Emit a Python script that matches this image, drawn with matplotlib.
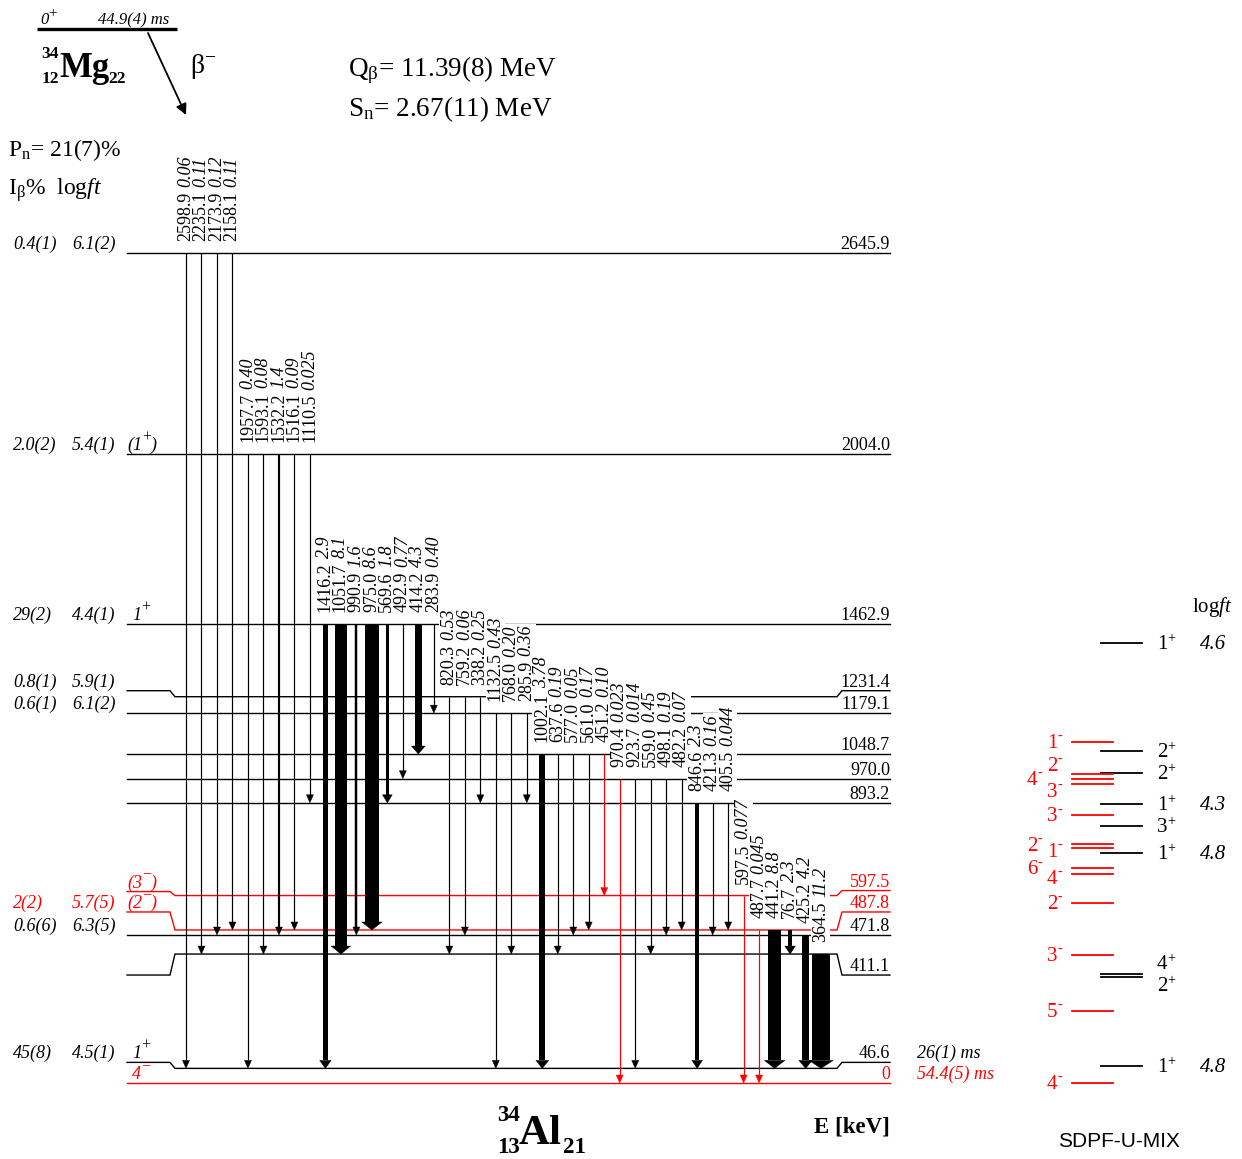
import matplotlib
matplotlib.use('Agg')
import matplotlib.pyplot as plt
from matplotlib.patches import Polygon

plt.rcParams['font.family'] = ['Liberation Serif', 'DejaVu Serif']
plt.rcParams['mathtext.fontset'] = 'custom'
plt.rcParams['mathtext.rm'] = 'Liberation Serif'
plt.rcParams['mathtext.it'] = 'Liberation Serif:italic'
plt.rcParams['mathtext.bf'] = 'Liberation Serif:bold'

# ---------------- data ----------------
level_E = [2645.9, 2004.0, 1462.9, 1231.4, 1179.1, 1048.7, 970.0, 893.2,
           597.5, 487.8, 471.8, 411.1, 46.6, 0.0]
level_text = ["2645.9", "2004.0", "1462.9", "1231.4", "1179.1", "1048.7", "970.0",
              "893.2", "597.5", "487.8", "471.8", "411.1", "46.6", "0"]
level_red = [False, False, False, False, False, False, False, False,
             True, True, False, False, False, True]
# spin-parity: (J, parity, tentative)
level_J = ["", "1", "1", "", "", "", "", "", "3", "2", "", "", "1", "4"]
level_parity = ["", "+", "+", "", "", "", "", "", "\u2212", "\u2212", "", "", "+", "\u2212"]
level_tentative = [False, True, False, False, False, False, False, False,
                   True, True, False, False, False, False]
level_Ibeta = ["0.4(1)", "2.0(2)", "29(2)", "0.8(1)", "0.6(1)", "", "", "",
               "", "2(2)", "0.6(6)", "", "45(8)", ""]
level_logft = ["6.1(2)", "5.4(1)", "4.4(1)", "5.9(1)", "6.1(2)", "", "", "",
               "", "5.7(5)", "6.3(5)", "", "4.5(1)", ""]
level_halflife = ["", "", "", "", "", "", "", "", "", "", "", "", "26(1) ms", "54.4(5) ms"]

g_energy = ["2598.9", "2235.1", "2173.9", "2158.1",
            "1957.7", "1593.1", "1532.2", "1516.1", "1110.5",
            "1416.2", "1051.7", "990.9", "975.0", "569.6", "492.9", "414.2", "283.9",
            "820.3", "759.2", "338.2",
            "1132.5", "768.0", "285.9",
            "1002.1", "637.6", "577.0", "561.0", "451.2",
            "970.4", "923.7", "559.0", "498.1", "482.2",
            "846.6", "421.3", "405.5",
            "597.5",
            "487.7", "441.2", "76.7",
            "425.2",
            "364.5"]
g_int_text = ["0.06", "0.11", "0.12", "0.11",
              "0.40", "0.08", "1.4", "0.09", "0.025",
              "2.9", "8.1", "1.6", "8.6", "1.8", "0.77", "4.3", "0.40",
              "0.53", "0.06", "0.25",
              "0.43", "0.20", "0.36",
              "3.78", "0.19", "0.05", "0.17", "0.10",
              "0.023", "0.014", "0.45", "0.19", "0.07",
              "2.3", "0.16", "0.044",
              "0.077",
              "0.045", "8.8", "2.3",
              "4.2",
              "11.2"]
g_int = [float(s) for s in g_int_text]
g_from = [2645.9] * 4 + [2004.0] * 5 + [1462.9] * 8 + [1231.4] * 3 + [1179.1] * 3 + \
         [1048.7] * 5 + [970.0] * 5 + [893.2] * 3 + [597.5] + [487.8] * 3 + [471.8] + [411.1]
g_to = [46.6, 411.1, 471.8, 487.8,
        46.6, 411.1, 471.8, 487.8, 893.2,
        46.6, 411.1, 471.8, 487.8, 893.2, 970.0, 1048.7, 1179.1,
        411.1, 471.8, 893.2,
        46.6, 411.1, 893.2,
        46.6, 411.1, 471.8, 487.8, 597.5,
        0.0, 46.6, 411.1, 471.8, 487.8,
        46.6, 471.8, 487.8,
        0.0,
        0.0, 46.6, 411.1,
        46.6,
        46.6]
g_red = ["451.2", "970.4", "597.5", "487.7"]

# SDPF-U-MIX calculation
th_pos_E = [1403, 1058, 988, 889, 819, 733, 347, 338, 54]
th_pos_spin = ["1", "2", "2", "1", "3", "1", "4", "2", "1"]
th_pos_logft = ["4.6", "", "", "4.3", "", "4.8", "", "", "4.8"]
th_neg_E = [1087, 985, 969, 953, 854, 762, 749, 685, 666, 574, 408, 230, 0]
th_neg_spin = ["1", "2", "4", "3", "3", "2", "1", "6", "4", "2", "3", "5", "4"]

# ---------------- layout ----------------
E_per_px = 2645.9 / 830.0
def py(ypx):            # pixel row -> energy coordinate
    return (1083.0 - ypx) * E_per_px
def dpx(n):             # pixel distance -> energy distance
    return n * E_per_px

level_left_dy = [0, 0, 0, -6, 0, 0, 0, 0, -4, -18, 0, 21, -6, 0]
level_right_dy = [0, 0, 0, -6, 0, 0, 0, 0, -5, -18, 0, 21, -6, 0]
th_pos_label_dy = [0, 0, 0, 0, 0, 0, -11, 8, 0]
th_neg_label_dy = [0, -9, 0, 7, 0, 1, 3, 0, 4, 0, 0, 0, 0]
th_neg_label_col = [0, 0, 1, 0, 0, 1, 0, 1, 0, 0, 0, 0, 0]

RED = '#ff0000'
FS = 13

fig = plt.figure(figsize=(12.42, 11.59), dpi=100)
ax = fig.add_axes([0, 0, 1, 1])
ax.set_xlim(0, 1242)
ax.set_ylim(py(1159), py(0))
ax.axis('off')


def chain(x, y, pieces, color='black', zorder=4):
    """Draw text pieces one after another: (text, fontsize, style, rise_pt)."""
    first = None
    prev = None
    for txt, fs, style, rise in pieces:
        if first is None:
            first = ax.text(x, y, txt, fontsize=fs, style=style, color=color,
                            ha='left', va='baseline', zorder=zorder)
            prev = first
        else:
            prev = ax.annotate(txt, xy=(1, 0), xycoords=(prev, first),
                               xytext=(0, rise), textcoords='offset points',
                               fontsize=fs, style=style, color=color,
                               ha='left', va='bottom', zorder=zorder)
    return first


# ---------------- levels ----------------
for i, E in enumerate(level_E):
    col = RED if level_red[i] else 'black'
    yl = E - dpx(level_left_dy[i])
    yr = E - dpx(level_right_dy[i])
    ax.plot([127, 170, 175, 837, 842, 890], [yl, yl, E, E, yr, yr], color=col,
            lw=1.0, zorder=1, solid_joinstyle='miter')
    ax.text(890, yr + dpx(4), level_text[i], ha='right', va='baseline', fontsize=FS,
            color=col)
    if level_J[i]:
        if level_tentative[i]:
            pieces = [("(" + level_J[i], FS, 'italic', 0), (level_parity[i], 11.5, 'normal', 6.0),
                      (")", FS, 'italic', 0)]
            xs = 127
        else:
            pieces = [(level_J[i], FS, 'italic', 0), (level_parity[i], 11.5, 'normal', 6.0)]
            xs = 132
        chain(xs, yl + dpx(4), pieces, color=col)
    if level_Ibeta[i]:
        ax.text(13, yl + dpx(4), level_Ibeta[i], ha='left', va='baseline', fontsize=FS,
                style='italic', color=col)
    if level_logft[i]:
        ax.text(72, yl + dpx(4), level_logft[i], ha='left', va='baseline', fontsize=FS,
                style='italic', color=col)
    if level_halflife[i]:
        ax.text(917, yr + dpx(4), level_halflife[i], ha='left', va='baseline', fontsize=FS,
                style='italic', color=col)

# ---------------- transitions ----------------
x0, dx = 186.0, 15.49
hl_px = 8.0
wbox = dict(boxstyle='square,pad=0.05', fc='white', ec='none')
for k, (eg, it, itt, Ef, Et) in enumerate(zip(g_energy, g_int, g_int_text, g_from, g_to)):
    x = x0 + dx * k
    col = RED if eg in g_red else 'black'
    w = max(1.2, 1.55 * it)
    head_top = Et + dpx(hl_px)
    if w < 2.6:
        ax.plot([x, x], [Ef, head_top], color=col, lw=w * 0.72, zorder=2,
                solid_capstyle='butt')
        hw = 7.0
    else:
        ax.add_patch(Polygon([(x - w / 2, Ef), (x + w / 2, Ef), (x + w / 2, head_top),
                              (x - w / 2, head_top)], closed=True, fc=col, ec='none',
                             zorder=2))
        hw = w + 7.0
    ax.add_patch(Polygon([(x - hw / 2, head_top), (x + hw / 2, head_top), (x, Et)],
                         closed=True, fc=col, ec=col, lw=0.3, zorder=2))
    t = ax.text(x - 0.5, Ef + dpx(12), eg, rotation=90, ha='center', va='bottom',
                fontsize=FS, color='black', zorder=5, bbox=wbox)
    ax.annotate(itt, xy=(0.5, 1), xycoords=t, xytext=(0, 3.2), textcoords='offset points',
                rotation=90, ha='center', va='bottom', fontsize=FS, style='italic',
                color='black', zorder=5, bbox=wbox)

# ---------------- parent and headers ----------------
ax.plot([37, 177], [py(29), py(29)], color='black', lw=2.4, solid_capstyle='butt')
chain(40, py(24), [("0", 12, 'italic', 0), ("+", 11, 'normal', 5.5)])
ax.text(98, py(24), "44.9(4) ms", fontsize=12, style='italic', ha='left', va='baseline')
ax.annotate("", xy=(186, py(115)), xytext=(148, py(33)),
            arrowprops=dict(arrowstyle='-|>', lw=1.3, color='black', mutation_scale=16,
                            shrinkA=0, shrinkB=0))
ax.text(190, py(73), r"β$^{-}$", fontsize=20, ha='left', va='baseline')
ax.text(59, py(58), "34", fontsize=12.5, weight='bold', ha='right', va='baseline')
ax.text(59, py(83), "12", fontsize=12.5, weight='bold', ha='right', va='baseline')
ax.text(59, py(77), "Mg", fontsize=25, weight='bold', ha='left', va='baseline')
ax.text(108, py(83), "22", fontsize=12.5, weight='bold', ha='left', va='baseline')

ax.text(348, py(76), r"Q$_{\mathrm{β}}$= 11.39(8) MeV", fontsize=19.5, ha='left', va='baseline')
ax.text(348, py(116), r"S$_{\mathrm{n}}$= 2.67(11) MeV", fontsize=19.5, ha='left', va='baseline')
ax.text(8, py(156), r"P$_{\mathrm{n}}$= 21(7)%", fontsize=17, ha='left', va='baseline')
ax.text(8, py(195), r"I$_{\mathrm{β}}$%  log$\mathit{ft}$", fontsize=17, ha='left', va='baseline')

ax.text(520, py(1121), "34", fontsize=16.5, weight='bold', ha='right', va='baseline')
ax.text(520, py(1153), "13", fontsize=16.5, weight='bold', ha='right', va='baseline')
ax.text(519, py(1144), "Al", fontsize=31, weight='bold', ha='left', va='baseline')
ax.text(563, py(1153), "21", fontsize=16.5, weight='bold', ha='left', va='baseline')
ax.text(890, py(1133), "E [keV]", fontsize=16.5, weight='bold', ha='right', va='baseline')

# ---------------- SDPF-U-MIX ----------------
ax.text(1192, py(612), r"log$\mathit{ft}$", fontsize=15, ha='left', va='baseline')
for E, sp, lf, dl in zip(th_pos_E, th_pos_spin, th_pos_logft, th_pos_label_dy):
    ax.plot([1101, 1142], [E, E], color='black', lw=1.3)
    chain(1157, E - dpx(dl) - dpx(6), [(sp, 15, 'normal', 0), ("+", 10, 'normal', 6.5)])
    if lf:
        ax.text(1200, E - dpx(6), lf, fontsize=15, style='italic', ha='left',
                va='baseline')
for E, sp, dl, c in zip(th_neg_E, th_neg_spin, th_neg_label_dy, th_neg_label_col):
    ax.plot([1072, 1113], [E, E], color=RED, lw=1.3)
    xl = 1047 if c == 0 else 1027
    chain(xl, E - dpx(dl) - dpx(6), [(sp, 15, 'normal', 0), ("-", 10, 'normal', 7)],
          color=RED)
ax.text(1058, py(1147), "SDPF-U-MIX", fontsize=15, family='Liberation Sans',
        ha='left', va='baseline')

fig.savefig('out.png', dpi=100)
